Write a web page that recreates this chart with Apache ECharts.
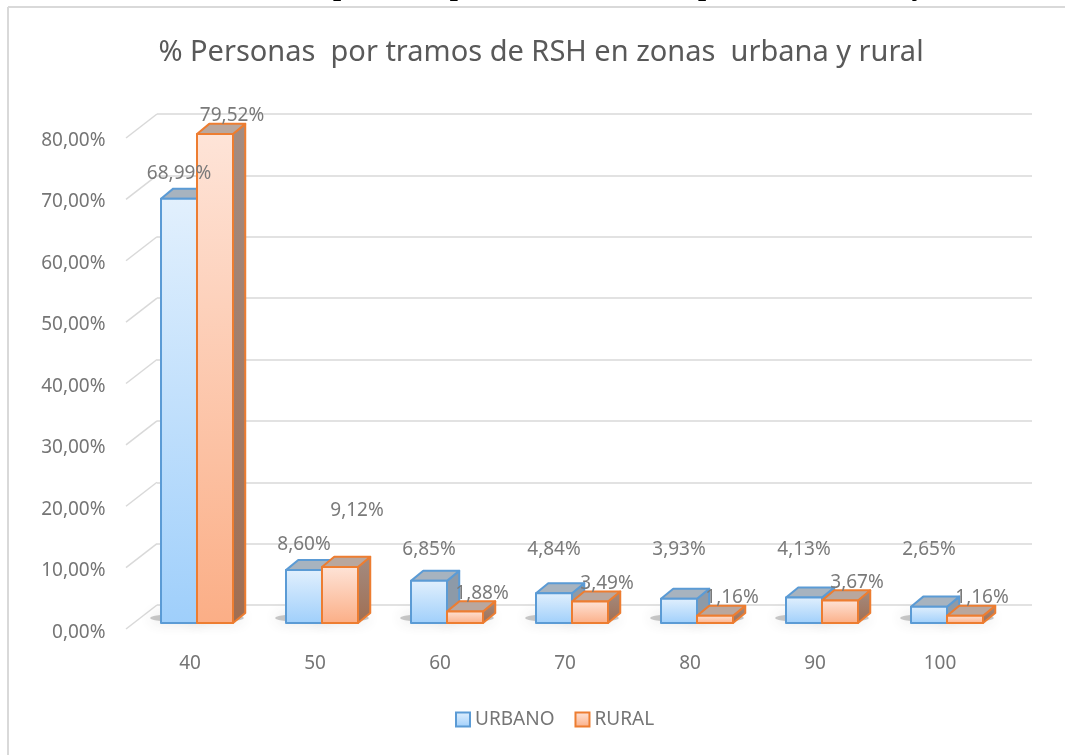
<!DOCTYPE html>
<html>
<head>
<meta charset="utf-8">
<script src="https://cdn.jsdelivr.net/npm/echarts@6/dist/echarts.min.js"></script>
<style>
  html, body { margin: 0; padding: 0; background: #fff; overflow: hidden; }
  #main { width: 1065px; height: 755px; }
</style>
</head>
<body>
<div id="main"></div>
<script>
// datos
var categories = ['40', '50', '60', '70', '80', '90', '100'];
var urbano = [68.99, 8.60, 6.85, 4.84, 3.93, 4.13, 2.65];
var rural = [79.52, 9.12, 1.88, 3.49, 1.16, 3.67, 1.16];
var yMin = 0, yMax = 80, yStep = 10;
var yTicks = [0, 10, 20, 30, 40, 50, 60, 70, 80];

var FONT = '"Noto Sans", sans-serif';

function pct(v) {
  return v.toFixed(2).replace('.', ',') + '%';
}

var faces = [
  { // urbano
    front: new echarts.graphic.LinearGradient(0, 0, 0, 1, [
      { offset: 0, color: '#e2f0fd' }, { offset: 1, color: '#9fcffb' }]),
    border: '#5b9bd5',
    top: '#a7b3bf',
    side: '#8d9aa8'
  },
  { // rural
    front: new echarts.graphic.LinearGradient(0, 0, 0, 1, [
      { offset: 0, color: '#fee4d8' }, { offset: 1, color: '#fbae86' }]),
    border: '#ed7d31',
    top: '#b9a79e',
    side: new echarts.graphic.LinearGradient(0, 0, 0, 1, [
      { offset: 0, color: '#a38c82' }, { offset: 1, color: '#a06e52' }])
  }
];

// posicion vertical de la etiqueta de urbano (tambien la usa rural para no encimarse)
function urbanoLabelY(api, i, dy) {
  var yt = api.coord([i, urbano[i]])[1];
  return Math.min(yt - dy - 15, api.coord([i, 12])[1]);
}

function makeBar(k) {
  return function (params, api) {
    var i = api.value(0), v = api.value(1);
    var base = api.coord([i, 0]);
    var top = api.coord([i, v]);
    var band = api.size([1, 0])[0];
    var w = band * 0.288;
    var dx = w * 0.34, dy = w * 0.28;
    var x0 = k === 0 ? base[0] - w : base[0];
    var yb = base[1], yt = top[1];
    var f = faces[k];
    var st = { stroke: f.border, lineWidth: 2, lineJoin: 'round' };
    var lx, ly;
    if (k === 0) {
      lx = x0 + w / 2;
      ly = urbanoLabelY(api, i, dy);
    } else {
      lx = x0 + w / 2 + 17;
      ly = Math.min(yt - dy - 8, api.coord([i, 4])[1]);
      var uy = urbanoLabelY(api, i, dy);
      if (Math.abs(ly - uy) < 22) ly = uy - 34;
    }
    return {
      type: 'group',
      children: [
        {
          type: 'ellipse', z2: -10, silent: true,
          shape: { cx: x0 + w / 2, cy: yb - 5, rx: w * 0.8, ry: 4 },
          style: { fill: 'rgba(70,70,70,0.28)', shadowBlur: 14, shadowColor: 'rgba(60,60,60,0.7)' }
        },
        {
          type: 'polygon',
          shape: { points: [[x0 + w, yt], [x0 + w + dx, yt - dy], [x0 + w + dx, yb - dy], [x0 + w, yb]] },
          style: Object.assign({ fill: f.side }, st)
        },
        {
          type: 'polygon',
          shape: { points: [[x0, yt], [x0 + dx, yt - dy], [x0 + w + dx, yt - dy], [x0 + w, yt]] },
          style: Object.assign({ fill: f.top }, st)
        },
        {
          type: 'rect',
          shape: { x: x0, y: yt, width: w, height: yb - yt },
          style: Object.assign({ fill: f.front }, st)
        },
        {
          type: 'text', z2: 20, silent: true,
          x: lx, y: ly,
          style: {
            text: pct(v), align: 'center', verticalAlign: 'middle',
            fill: '#7a7a7a', font: '19px ' + FONT
          }
        }
      ]
    };
  };
}

function backDiagonal(params, api) {
  var p = api.coord([0, api.value(0)]);
  return {
    type: 'line', silent: true,
    shape: { x1: p[0] - 31, y1: p[1] + 24, x2: p[0], y2: p[1] },
    style: { stroke: '#d9d9d9', lineWidth: 1.5 }
  };
}

var myChart = echarts.init(document.getElementById('main'));
myChart.setOption({
  animation: false,
  backgroundColor: '#fff',
  graphic: [
    { // marco del grafico (solo borde izquierdo y superior quedan a la vista)
      type: 'line', silent: true, z: -10,
      shape: { x1: 8, y1: 7, x2: 8, y2: 760 },
      style: { stroke: '#d9d9d9', lineWidth: 2 }
    },
    {
      type: 'line', silent: true, z: -10,
      shape: { x1: 8, y1: 7, x2: 1065, y2: 7 },
      style: { stroke: '#d9d9d9', lineWidth: 2 }
    },
    { // titulo del documento, cortado arriba
      type: 'text', silent: true,
      x: 333, y: 2,
      style: {
        text: 'personas por tramos de RSH por zona urbana y',
        align: 'left', verticalAlign: 'bottom',
        fill: '#000', font: 'bold 29px "Liberation Serif", serif'
      }
    },
    {
      type: 'text', silent: true,
      x: 541, y: 53,
      style: {
        text: '% Personas  por tramos de RSH en zonas  urbana y rural',
        align: 'center', verticalAlign: 'middle',
        fill: '#595959', font: '29px ' + FONT
      }
    }
  ],
  legend: {
    bottom: 21,
    left: 450,
    itemWidth: 14,
    itemHeight: 14,
    itemGap: 20,
    icon: 'rect',
    textStyle: { color: '#757575', fontSize: 19, fontFamily: FONT },
    data: ['URBANO', 'RURAL']
  },
  grid: [
    { left: 134.5, right: 55.5, top: 131, bottom: 132 },
    { left: 157, right: 33, top: 114, bottom: 150 }
  ],
  xAxis: [
    {
      type: 'category', gridIndex: 0, data: categories,
      axisLine: { show: false }, axisTick: { show: false },
      axisLabel: {
        color: '#757575', fontSize: 19, fontFamily: FONT,
        margin: 31, padding: [0, 14, 0, 0]
      }
    },
    { type: 'value', gridIndex: 1, min: 0, max: 1, show: false }
  ],
  yAxis: [
    {
      type: 'value', gridIndex: 0, min: yMin, max: yMax, interval: yStep,
      axisLine: { show: false }, axisTick: { show: false },
      splitLine: { show: false },
      axisLabel: {
        color: '#757575', fontSize: 19, fontFamily: FONT, margin: 29,
        verticalAlign: 'top',
        formatter: function (v) { return pct(v); }
      }
    },
    {
      type: 'value', gridIndex: 1, min: yMin, max: yMax, interval: yStep,
      axisLine: { show: false }, axisTick: { show: false },
      axisLabel: { show: false },
      splitLine: { lineStyle: { color: '#d9d9d9', width: 1.5 } }
    }
  ],
  series: [
    {
      type: 'custom', xAxisIndex: 1, yAxisIndex: 1, z: 1, silent: true,
      renderItem: backDiagonal,
      data: yTicks.map(function (t) { return [t]; })
    },
    {
      name: 'URBANO', type: 'custom', xAxisIndex: 0, yAxisIndex: 0,
      renderItem: makeBar(0),
      itemStyle: { color: faces[0].front, borderColor: faces[0].border, borderWidth: 2 },
      encode: { x: 0, y: 1 },
      data: urbano.map(function (v, i) { return [i, v]; })
    },
    {
      name: 'RURAL', type: 'custom', xAxisIndex: 0, yAxisIndex: 0,
      renderItem: makeBar(1),
      itemStyle: { color: faces[1].front, borderColor: faces[1].border, borderWidth: 2 },
      encode: { x: 0, y: 1 },
      data: rural.map(function (v, i) { return [i, v]; })
    }
  ]
});
</script>
</body>
</html>
